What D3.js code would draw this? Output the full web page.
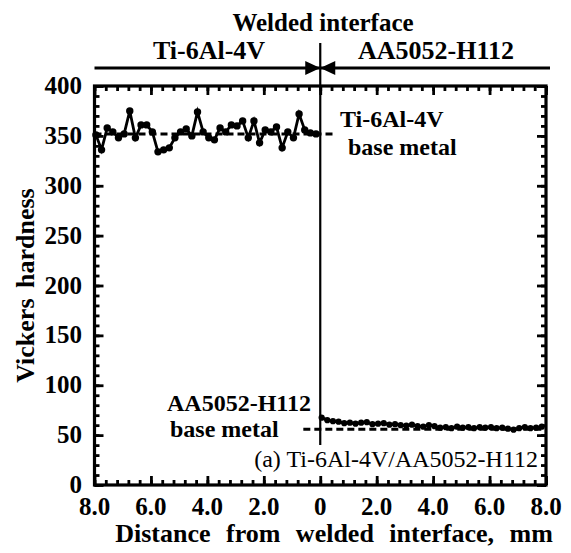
<!DOCTYPE html>
<html>
<head>
<meta charset="utf-8">
<script src="https://cdn.jsdelivr.net/npm/d3@7"></script>
<style>
  body { margin: 0; background: #fff; }
  text { font-family: "Liberation Serif", "Times New Roman", serif; fill: #000; }
</style>
</head>
<body>
<svg id="chart" width="571" height="553"></svg>
<script>
// Hardness traverse across the Ti-6Al-4V / AA5052-H112 weld.
// Negative distance = titanium side, positive distance = aluminium side.
const tiDistance = [-7.95, -7.75, -7.55, -7.35, -7.15, -6.95, -6.75, -6.55, -6.35, -6.15,
                    -5.95, -5.75, -5.55, -5.35, -5.15, -4.95, -4.75, -4.55, -4.35, -4.15,
                    -3.95, -3.75, -3.55, -3.35, -3.15, -2.95, -2.75, -2.55, -2.35, -2.15,
                    -1.95, -1.75, -1.55, -1.35, -1.15, -0.95, -0.75, -0.55, -0.35, -0.15];
const tiHardness = [351, 336, 358, 354, 348, 352, 375, 348, 361, 361,
                    354, 334, 336, 338, 348, 354, 357, 350, 374, 354,
                    348, 346, 358, 354, 361, 360, 365, 348, 365, 343,
                    356, 354, 359, 338, 354, 348, 372, 356, 353, 352];

const alDistance = [0.05, 0.25, 0.45, 0.65, 0.85, 1.05, 1.25, 1.45, 1.65, 1.85,
                    2.05, 2.25, 2.45, 2.65, 2.85, 3.05, 3.25, 3.45, 3.65, 3.85,
                    4.05, 4.25, 4.45, 4.65, 4.85, 5.05, 5.25, 5.45, 5.65, 5.85,
                    6.05, 6.25, 6.45, 6.65, 6.85, 7.05, 7.25, 7.45, 7.65, 7.85];
const alHardness = [67.5, 65, 64, 63.5, 62, 62.5, 61.5, 62.5, 63, 61,
                    61.5, 62, 60.5, 61, 60, 59.5, 60.5, 59, 58.5, 60,
                    59, 57.5, 58, 57, 58.5, 57.5, 58, 57, 58, 57.5,
                    58, 57, 57.5, 56.5, 55.5, 57, 58, 57, 57.5, 58.5];

// Base-metal reference levels (dashed lines)
const tiBaseLevel = 352;
const tiBaseSpan = [-8, 0.45];
const alBaseLevel = 56;
const alBaseSpan = [-0.6, 8];

const xMajorTicks = [-8, -6, -4, -2, 0, 2, 4, 6, 8];
const xTickLabels = ["8.0", "6.0", "4.0", "2.0", "0", "2.0", "4.0", "6.0", "8.0"];
const yMajorTicks = [0, 50, 100, 150, 200, 250, 300, 350, 400];
const yTickLabels = ["0", "50", "100", "150", "200", "250", "300", "350", "400"];

const svg = d3.select("#chart");
const x = d3.scaleLinear().domain([-8, 8]).range([94.5, 546]);
const y = d3.scaleLinear().domain([0, 400]).range([485, 86]);

const xMinor = d3.range(-8, 8.0001, 0.4);
const yMinor = d3.range(0, 400.0001, 10);

function styleAxis(g) {
  g.select(".domain").remove();
  g.selectAll(".tick line").attr("stroke", "#000").attr("stroke-width", 2.8);
  g.selectAll(".tick text").remove();
}

// inward ticks on all four sides, minor then major
const axes = [
  [d3.axisBottom, `translate(0,${y(0)})`, x, xMinor, xMajorTicks],
  [d3.axisTop, `translate(0,${y(400)})`, x, xMinor, xMajorTicks],
  [d3.axisLeft, `translate(${x(-8)},0)`, y, yMinor, yMajorTicks],
  [d3.axisRight, `translate(${x(8)},0)`, y, yMinor, yMajorTicks]
];
axes.forEach(([fn, tr, sc, minor, major]) => {
  svg.append("g").attr("transform", tr)
    .call(fn(sc).tickValues(minor).tickSize(-5).tickFormat(""))
    .call(styleAxis);
  svg.append("g").attr("transform", tr)
    .call(fn(sc).tickValues(major).tickSize(-9).tickFormat(""))
    .call(styleAxis);
});

// plot frame
svg.append("rect")
  .attr("x", x(-8)).attr("y", y(400))
  .attr("width", x(8) - x(-8)).attr("height", y(0) - y(400))
  .attr("fill", "none").attr("stroke", "#000").attr("stroke-width", 3.2);

// tick labels
svg.append("g").selectAll("text").data(xMajorTicks).join("text")
  .attr("x", d => x(d)).attr("y", 515)
  .attr("text-anchor", "middle")
  .attr("font-size", 25).attr("font-weight", "bold")
  .text((d, i) => xTickLabels[i]);

svg.append("g").selectAll("text").data(yMajorTicks).join("text")
  .attr("x", 82).attr("y", d => y(d) + 8)
  .attr("text-anchor", "end")
  .attr("font-size", 25).attr("font-weight", "bold")
  .text((d, i) => yTickLabels[i]);

// axis titles
svg.append("text")
  .attr("x", 334).attr("y", 542)
  .attr("text-anchor", "middle")
  .attr("font-size", 26).attr("font-weight", "bold")
  .attr("word-spacing", 9)
  .text("Distance from welded interface, mm");

svg.append("text")
  .attr("transform", `translate(34,${(y(0) + y(400)) / 2}) rotate(-90)`)
  .attr("text-anchor", "middle")
  .attr("font-size", 26).attr("font-weight", "bold")
  .attr("word-spacing", 4)
  .text("Vickers hardness");

// welded interface marker above the plot
const x0 = x(0);
svg.append("line")
  .attr("x1", x(-8)).attr("x2", x(8) + 4).attr("y1", 68).attr("y2", 68)
  .attr("stroke", "#000").attr("stroke-width", 2.8);
svg.append("line")
  .attr("x1", x0).attr("x2", x0).attr("y1", 43).attr("y2", y(40))
  .attr("stroke", "#000").attr("stroke-width", 2.2);
svg.append("path")
  .attr("d", `M${x0 - 15},61 L${x0},68 L${x0 - 15},75 Z M${x0 + 15},61 L${x0},68 L${x0 + 15},75 Z`)
  .attr("fill", "#000");

svg.append("text").attr("x", 323).attr("y", 31)
  .attr("text-anchor", "middle").attr("font-size", 25).attr("font-weight", "bold")
  .text("Welded interface");
svg.append("text").attr("x", 209).attr("y", 59)
  .attr("text-anchor", "middle").attr("font-size", 26).attr("font-weight", "bold")
  .text("Ti-6Al-4V");
svg.append("text").attr("x", 436).attr("y", 59)
  .attr("text-anchor", "middle").attr("font-size", 26).attr("font-weight", "bold")
  .text("AA5052-H112");

// base metal reference lines
svg.append("line")
  .attr("x1", x(tiBaseSpan[0])).attr("x2", x(tiBaseSpan[1]))
  .attr("y1", y(tiBaseLevel)).attr("y2", y(tiBaseLevel))
  .attr("stroke", "#000").attr("stroke-width", 3).attr("stroke-dasharray", "7,4");
svg.append("line")
  .attr("x1", x(alBaseSpan[0])).attr("x2", x(alBaseSpan[1]))
  .attr("y1", y(alBaseLevel)).attr("y2", y(alBaseLevel))
  .attr("stroke", "#000").attr("stroke-width", 3).attr("stroke-dasharray", "7,4");

// data series
const tiData = tiDistance.map((d, i) => [d, tiHardness[i]]);
const alData = alDistance.map((d, i) => [d, alHardness[i]]);
const line = d3.line().x(d => x(d[0])).y(d => y(d[1]));

svg.append("path").datum(tiData).attr("d", line)
  .attr("fill", "none").attr("stroke", "#000").attr("stroke-width", 2.8);
svg.append("g").selectAll("circle").data(tiData).join("circle")
  .attr("cx", d => x(d[0])).attr("cy", d => y(d[1])).attr("r", 3.7).attr("fill", "#000");

svg.append("path").datum(alData).attr("d", line)
  .attr("fill", "none").attr("stroke", "#000").attr("stroke-width", 3);
svg.append("g").selectAll("circle").data(alData).join("circle")
  .attr("cx", d => x(d[0])).attr("cy", d => y(d[1])).attr("r", 3.1).attr("fill", "#000");

// annotations
svg.append("text").attr("x", 340).attr("y", 127)
  .attr("font-size", 24).attr("font-weight", "bold").text("Ti-6Al-4V");
svg.append("text").attr("x", 348).attr("y", 155)
  .attr("font-size", 24).attr("font-weight", "bold").text("base metal");
svg.append("text").attr("x", 167).attr("y", 411)
  .attr("font-size", 24).attr("font-weight", "bold").text("AA5052-H112");
svg.append("text").attr("x", 170).attr("y", 437)
  .attr("font-size", 24).attr("font-weight", "bold").text("base metal");

svg.append("text").attr("x", 538).attr("y", 467)
  .attr("text-anchor", "end").attr("font-size", 24)
  .text("(a) Ti-6Al-4V/AA5052-H112");
</script>
</body>
</html>
